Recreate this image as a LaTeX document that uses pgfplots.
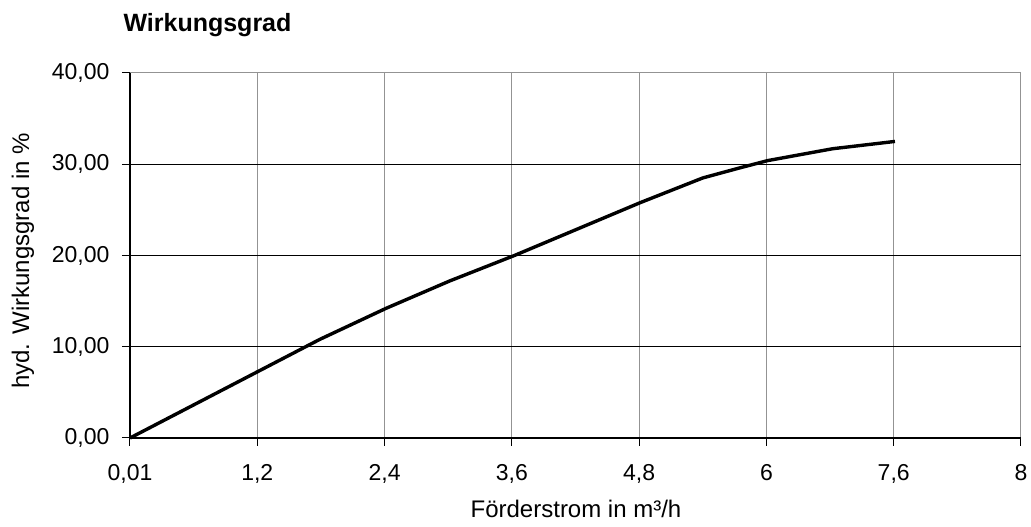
\documentclass[border=0pt]{standalone}
\usepackage{fontspec}
\setmainfont{Liberation Sans}
\usepackage{pgfplots}
\pgfplotsset{compat=1.18}
\begin{document}
\begin{tikzpicture}[x=1pt,y=1pt]
\begin{axis}[
    at={(0,0)}, anchor=south west,
    width=891pt, height=365pt, scale only axis,
    xmin=0, xmax=7, ymin=0, ymax=40,
    axis x line*=bottom, axis y line*=left,
    axis line style={black, line width=1.5pt},
    xtick={0,1,...,7},
    xticklabels={{0,01},{1,2},{2,4},{3,6},{4,8},{6},{7,6},{8}},
    ytick={0,10,20,30,40},
    y tick label style={xshift=-9pt},
    yticklabel style={/pgf/number format/.cd, fixed, zerofill, precision=2, use comma, assume math mode=true},
    tick align=outside, major tick length=8pt,
    tick style={black, line width=1pt},
    every tick label/.append style={font=\fontsize{23}{26}\selectfont},
    xticklabel style={yshift=-15pt},
    xmajorgrids, ymajorgrids,
    x grid style={gray!85, line width=1pt},
    y grid style={black, line width=1pt},
    clip=false,
]
\addplot[black, line width=3.4pt, line join=round] coordinates {
(0,0) (1.49,10.8) (2.01,14.2) (2.51,17.2) (3.02,20.0) (4.01,25.8)
(4.50,28.5) (4.79,29.6) (5.01,30.4) (5.52,31.7) (6.01,32.5)
};
\draw[gray!85, line width=1pt] (rel axis cs:0,1) -- (rel axis cs:1,1);
\end{axis}
\node[anchor=west, font=\bfseries\fontsize{25}{28}\selectfont] at (-10,413) {Wirkungsgrad};
\node[rotate=90, font=\fontsize{24}{27}\selectfont] at (-107,177) {hyd. Wirkungsgrad in \%};
\node[font=\fontsize{24}{27}\selectfont] at (446,-71) {Förderstrom in m³/h};
\pgfresetboundingbox
\path (-130,-89) rectangle (901,438);
\end{tikzpicture}
\end{document}
